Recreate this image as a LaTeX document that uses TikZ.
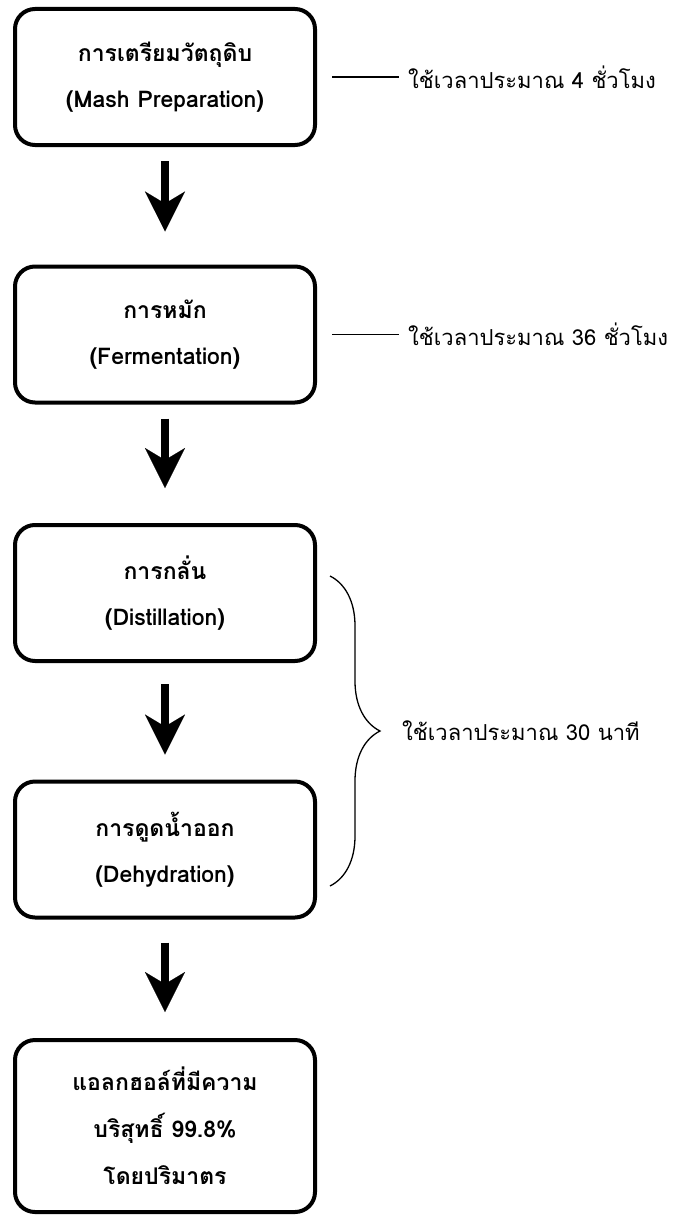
\documentclass[tikz,border=0pt]{standalone}
\usepackage{fontspec}
\newfontfamily\thaifont[Script=Thai]{Loma}
\usetikzlibrary{arrows.meta,positioning,decorations.pathreplacing}

\tikzset{
  stepbox/.style={draw, line width=4pt, rounded corners=20pt,
    minimum width=300pt, minimum height=136pt, align=center,
    font=\thaifont\bfseries\fontsize{23}{46}\selectfont},
  downarrow/.style={line width=8pt,
    -{Stealth[length=40pt,width=40pt,inset=12pt,line width=0.1pt]}},
  timeline/.style={line width=1.3pt},
  timelabel/.style={anchor=west, inner sep=3pt,
    font=\thaifont\fontsize{22}{26}\selectfont},
}

\begin{document}
\begin{tikzpicture}[x=1pt,y=-1pt]
	\useasboundingbox (0,0) rectangle (681,1215);

	% process steps
	\node[stepbox] (b1) at (165,77) {การเตรียมวัตถุดิบ\\(Mash Preparation)};
	\node[stepbox] (b2) at (165,334.5) {การหมัก\\(Fermentation)};
	\node[stepbox] (b3) at (165,593) {การกลั่น\\(Distillation)};
	\node[stepbox] (b4) at (165,849.5) {การดูดน้ำออก\\(Dehydration)};
	\node[stepbox, minimum height=172pt, font=\thaifont\bfseries\fontsize{23}{47}\selectfont] (b5) at (165,1126)
		{แอลกฮอล์ที่มีความ\\บริสุทธิ์ 99.8\%\\โดยปริมาตร};

	\draw[downarrow, shorten <=14pt, shorten >=33pt] (b1) -- (b2);
	\draw[downarrow, shorten <=14pt, shorten >=35pt] (b2) -- (b3);
	\draw[downarrow, shorten <=21pt, shorten >=25pt] (b3) -- (b4);
	\draw[downarrow, shorten <=23pt, shorten >=26pt] (b4) -- (b5);

	% time notes
	\node[timelabel, right=88pt of b1] (t1) {ใช้เวลาประมาณ 4 ชั่วโมง};
	\node[timelabel, right=88pt of b2] (t2) {ใช้เวลาประมาณ 36 ชั่วโมง};
	\draw[timeline, shorten <=15pt, shorten >=6pt] (b1) -- (t1);
	\draw[timeline, shorten <=15pt, shorten >=6pt] (b2) -- (t2);

	\draw[timeline, decorate, decoration={brace, amplitude=50pt}] (330,576) -- (330,886);
	\node[timelabel] (t3) at (399,731) {ใช้เวลาประมาณ 30 นาที};
\end{tikzpicture}
\end{document}
